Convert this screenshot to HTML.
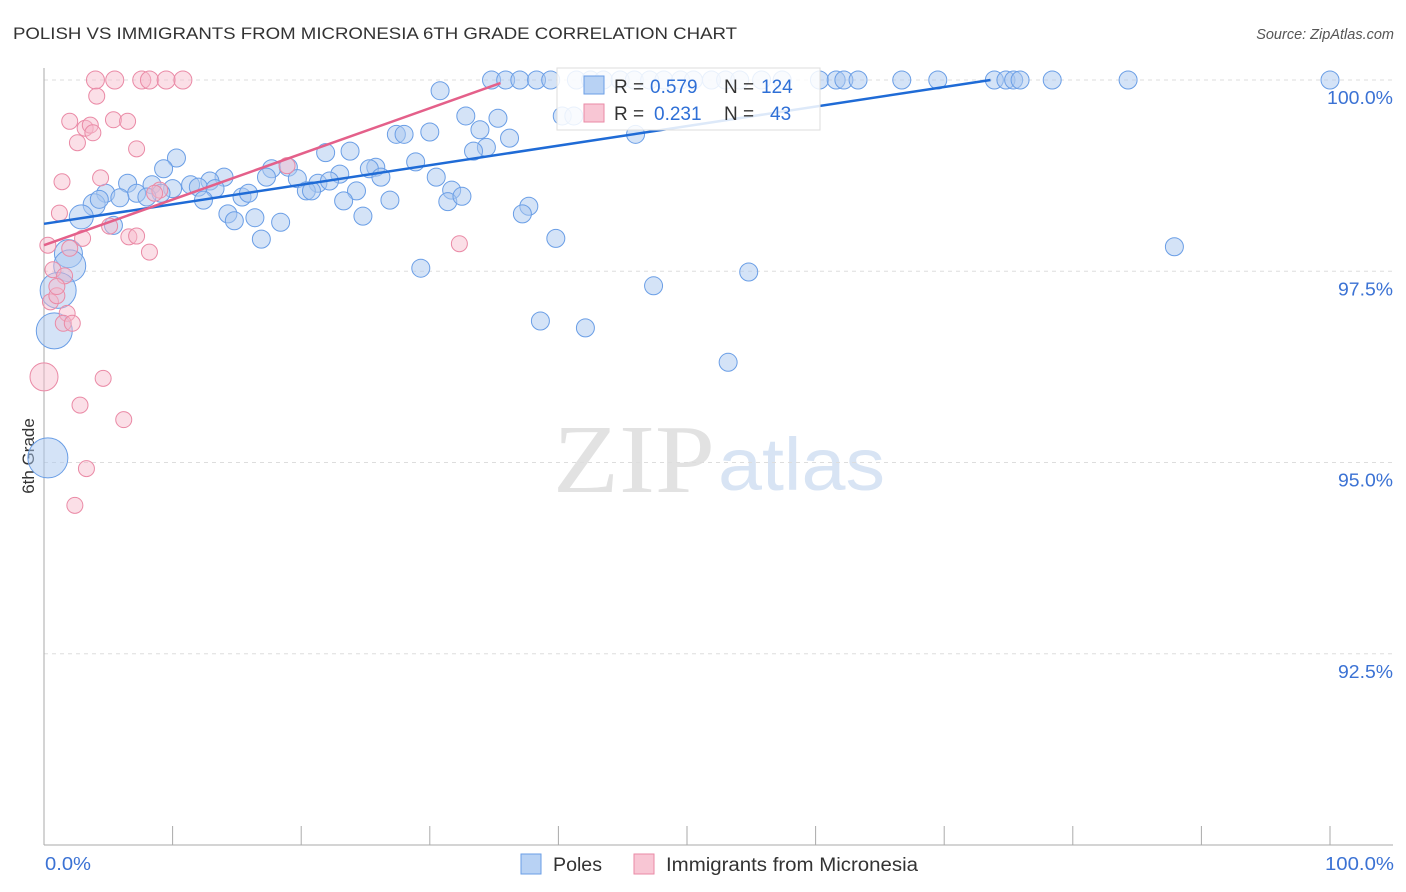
<!DOCTYPE html>
<html><head><meta charset="utf-8"><style>
body{margin:0;background:#fff;font-family:"Liberation Sans",sans-serif;}
svg{display:block}
</style></head><body>
<svg id="chart" width="1406" height="892">
<text x="13" y="39" font-size="17" fill="#333" textLength="724" lengthAdjust="spacingAndGlyphs">POLISH VS IMMIGRANTS FROM MICRONESIA 6TH GRADE CORRELATION CHART</text>
<text x="1394" y="39" font-size="14.5" fill="#555" font-style="italic" text-anchor="end">Source: ZipAtlas.com</text>
<text x="34" y="456" font-size="17" fill="#333" transform="rotate(-90 34 456)" text-anchor="middle">6th Grade</text>
<g>
<text x="553" y="492" font-size="98" font-family="Liberation Serif,serif" fill="#e2e2e2" textLength="162" lengthAdjust="spacingAndGlyphs">ZIP</text>
<text x="718" y="490" font-size="74" fill="#d8e4f4" textLength="167" lengthAdjust="spacingAndGlyphs">atlas</text>
</g>
<g id="grid"></g><g id="axes"></g><g id="pts"></g><g id="trend"></g>
<g>
<rect x="557" y="68" width="263" height="62" fill="#fff" fill-opacity="0.85" stroke="#ddd"/>
<rect x="584" y="76" width="20" height="18" fill="#b8d2f4" stroke="#6a9ee6"/>
<text x="614" y="93" font-size="19" fill="#333">R =</text>
<text x="650" y="93" font-size="19" fill="#2e6fd6">0.579</text>
<text x="724" y="93" font-size="19" fill="#333">N =</text>
<text x="761" y="93" font-size="19" fill="#2e6fd6">124</text>
<rect x="584" y="104" width="20" height="18" fill="#f8c6d4" stroke="#ea8aa6"/>
<text x="614" y="120" font-size="19" fill="#333">R =</text>
<text x="654" y="120" font-size="19" fill="#2e6fd6">0.231</text>
<text x="724" y="120" font-size="19" fill="#333">N =</text>
<text x="770" y="120" font-size="19" fill="#2e6fd6">43</text>
</g>
<g>
<rect x="521" y="854" width="20" height="20" fill="#b8d2f4" stroke="#6a9ee6"/>
<text x="553" y="871" font-size="19" fill="#333" textLength="49" lengthAdjust="spacingAndGlyphs">Poles</text>
<rect x="634" y="854" width="20" height="20" fill="#f8c6d4" stroke="#ea8aa6"/>
<text x="666" y="871" font-size="19" fill="#333" textLength="252" lengthAdjust="spacingAndGlyphs">Immigrants from Micronesia</text>
</g>
</svg>
<script>
const yTicks=[100,97.5,95,92.5];
const yTickLabels=["100.0%","97.5%","95.0%","92.5%"];
const xTickLabels=["0.0%","100.0%"];
const polesX=[34.8,35.9,37.0,38.3,39.4,41.4,42.5,43.5,44.8,45.9,47.1,48.2,49.5,50.5,51.9,53.0,54.1,55.8,57.4,60.3,61.6,62.2,63.3,66.7,69.5,73.9,74.8,75.4,75.9,78.4,84.3,100,
30.8,32.8,35.3,33.9,27.4,28.0,30.0,36.2,34.4,33.4,21.9,23.8,10.3,28.9,25.8,25.3,23.0,26.2,30.5,9.3,17.7,17.3,19.0,19.7,21.3,22.2,14.0,12.9,11.4,12.0,13.3,8.4,6.5,10.0,9.1,7.2,4.8,5.9,8.0,12.4,15.4,15.9,20.4,20.8,24.3,23.3,26.9,31.7,31.4,32.5,37.7,37.2,24.8,14.3,14.8,16.4,18.4,16.9,39.8,5.4,3.9,2.9,4.3,1.9,2.0,1.1,0.8,0.3,29.3,54.8,47.4,38.6,42.1,53.2,87.9,46.0,40.3,41.2];
const polesY=[100,100,100,100,100,100,100,100,100,100,100,100,100,100,100,100,100,100,100,100,100,100,100,100,100,100,100,100,100,100,100,100,
99.86,99.53,99.50,99.35,99.29,99.29,99.32,99.24,99.12,99.07,99.05,99.07,98.98,98.93,98.86,98.84,98.77,98.73,98.73,98.84,98.84,98.73,98.86,98.71,98.65,98.68,98.73,98.68,98.63,98.60,98.58,98.63,98.65,98.58,98.52,98.52,98.52,98.46,98.47,98.43,98.47,98.52,98.55,98.55,98.55,98.42,98.43,98.56,98.41,98.48,98.35,98.25,98.22,98.25,98.16,98.20,98.14,97.92,97.93,98.10,98.37,98.21,98.44,97.73,97.57,97.25,96.72,95.06,97.54,97.49,97.31,96.85,96.76,96.31,97.82,99.29,99.53,99.53];
const polesSize=[9,9,9,9,9,9,9,9,9,9,9,9,9,9,9,9,9,9,9,9,9,9,9,9,9,9,9,9,9,9,9,9,
9,9,9,9,9,9,9,9,9,9,9,9,9,9,9,9,9,9,9,9,9,9,9,9,9,9,9,9,9,9,9,9,9,9,9,9,9,9,9,9,9,9,9,9,9,9,9,9,9,9,9,9,9,9,9,9,9,9,9,9,11,12,9,14,16,18,18,20,9,9,9,9,9,9,9,9,9,9];
const micX=[4.0,5.5,7.6,8.2,9.5,10.8,4.1,2.0,3.2,3.6,3.8,5.4,6.5,2.6,7.2,1.4,4.4,1.2,3.0,5.1,6.6,7.2,8.2,9.0,8.6,0.3,0.7,0.5,1.6,1.0,1.8,1.5,2.2,4.6,2.8,6.2,3.3,2.4,0,32.3,18.9,2.0,1.0];
const micY=[100,100,100,100,100,100,99.79,99.46,99.37,99.41,99.31,99.48,99.46,99.18,99.10,98.67,98.72,98.26,97.93,98.09,97.95,97.96,97.75,98.56,98.52,97.84,97.52,97.10,97.44,97.18,96.95,96.82,96.82,96.10,95.75,95.56,94.92,94.44,96.12,97.86,98.88,97.80,97.30];
const micSize=[9,9,9,9,9,9,8,8,8,8,8,8,8,8,8,8,8,8,8,8,8,8,8,8,8,8,8,8,8,8,8,8,8,8,8,8,8,8,14,8,8,8,8];
const polesTrend=[[0,98.12],[73.6,100]];
const micTrend=[[0,97.84],[35.5,99.96]];
const NS="http://www.w3.org/2000/svg";
const X=v=>44+v*12.86, Y=v=>80+(100-v)*76.5;
function mk(tag,attrs,parent){const e=document.createElementNS(NS,tag);for(const k in attrs)e.setAttribute(k,attrs[k]);document.getElementById(parent).appendChild(e);return e;}
yTicks.forEach((t,i)=>{
 const g=mk('line',{x1:44,x2:1393,y1:Y(t),y2:Y(t),stroke:'#ddd','stroke-dasharray':'4,4'},'grid');
 
 
 const lab=yTickLabels[i];
 const l=mk('text',{x:1393,y:Y(t)+24,'font-size':18,fill:'#3b72d4','text-anchor':'end',textLength:lab.length*11,lengthAdjust:'spacingAndGlyphs'},'grid');
 l.textContent=lab;
 
 
});
const ax=mk('line',{x1:44,x2:44,y1:68,y2:845,stroke:'#aaa'},'axes');


const bx=mk('line',{x1:44,x2:1393,y1:845,y2:845,stroke:'#aaa'},'axes');


for(let i=0;i<=10;i++){
 const t=mk('line',{x1:X(i*10),x2:X(i*10),y1:826,y2:845,stroke:'#aaa'},'axes');
 
 
}
[[0,'start',45],[100,'end',1394]].forEach((d,i)=>{
 const lab=xTickLabels[i];
 const t=mk('text',{x:d[2],y:870,'font-size':18,fill:'#3b72d4','text-anchor':d[1],textLength:lab.length*11.5,lengthAdjust:'spacingAndGlyphs'},'axes');
 t.textContent=lab;
 
 
});
polesX.forEach((v,i)=>{
 const c=mk('circle',{cx:X(v),cy:Y(polesY[i]),r:polesSize[i],fill:'#a9c8f0','fill-opacity':0.5,stroke:'#6a9ee6','stroke-width':1},'pts');
 
 
});
micX.forEach((v,i)=>{
 const c=mk('circle',{cx:X(v),cy:Y(micY[i]),r:micSize[i],fill:'#f6b8ca','fill-opacity':0.45,stroke:'#ea8aa6','stroke-width':1},'pts');
 
 
});
const pl=mk('line',{x1:X(polesTrend[0][0]),y1:Y(polesTrend[0][1]),x2:X(polesTrend[1][0]),y2:Y(polesTrend[1][1]),stroke:'#1f6bd6','stroke-width':2.5},'trend');


const ml=mk('line',{x1:X(micTrend[0][0]),y1:Y(micTrend[0][1]),x2:X(micTrend[1][0]),y2:Y(micTrend[1][1]),stroke:'#e4608a','stroke-width':2.5},'trend');


</script>
</body></html>
